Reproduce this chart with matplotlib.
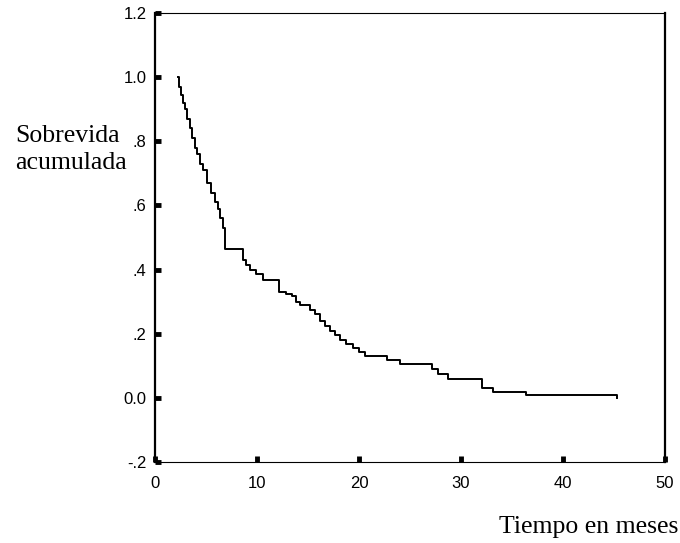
import matplotlib.pyplot as plt

# Kaplan-Meier steps (months, cumulative survival)
tiempo = [2.25, 2.35, 2.55, 2.75, 2.95, 3.15, 3.4, 3.65, 3.9, 4.15, 4.4, 4.75, 5.1, 5.5, 5.9,
          6.15, 6.4, 6.65, 6.9, 8.3, 8.6, 8.95, 9.3, 9.9, 10.6, 12.2, 12.8, 13.4, 13.8, 14.2,
          15.2, 15.7, 16.2, 16.7, 17.2, 17.6, 18.1, 18.7, 19.4, 20.0, 20.6, 22.7, 24.0, 27.2,
          27.7, 28.7, 32.1, 33.1, 36.4, 45.3]
sobrevida = [1.0, 0.97, 0.944, 0.92, 0.90, 0.87, 0.84, 0.81, 0.78, 0.76, 0.73, 0.71, 0.67, 0.64, 0.61,
             0.59, 0.56, 0.53, 0.465, 0.465, 0.43, 0.415, 0.40, 0.385, 0.367, 0.33, 0.325, 0.318, 0.30, 0.29,
             0.275, 0.26, 0.24, 0.225, 0.21, 0.195, 0.18, 0.168, 0.155, 0.142, 0.13, 0.118, 0.105, 0.09,
             0.075, 0.06, 0.03, 0.019, 0.009, 0.0]

x_ticks = [0, 10, 20, 30, 40, 50]
y_ticks = [-0.2, 0.0, 0.2, 0.4, 0.6, 0.8, 1.0, 1.2]
y_labels = ['-.2', '0.0', '.2', '.4', '.6', '.8', '1.0', '1.2']

fig = plt.figure(figsize=(6.8, 5.43), dpi=100)
ax = fig.add_axes([155 / 680, 81 / 543, 510 / 680, 449 / 543])

ax.step(tiempo, sobrevida, where='post', color='black', linewidth=1.4)

ax.set_xlim(0, 50)
ax.set_ylim(-0.2, 1.2)
ax.set_xticks(x_ticks)
ax.set_yticks(y_ticks)
ax.set_yticklabels(y_labels)
for lab in ax.get_xticklabels() + ax.get_yticklabels():
    lab.set_fontfamily('Liberation Sans')
    lab.set_fontsize(12)

ax.tick_params(axis='both', direction='in', length=4, width=3.5, color='black')
ax.tick_params(axis='x', pad=10)
ax.tick_params(axis='y', pad=6)

ax.spines['left'].set_linewidth(1.6)
ax.spines['right'].set_linewidth(1.6)
for s in ['top', 'bottom']:
    ax.spines[s].set_linewidth(0.8)
    ax.spines[s].set_linestyle((0, (3, 1)))

serif = ['Liberation Serif', 'DejaVu Serif']
fig.text(15 / 680, 1 - 169 / 543, 'Sobrevida\nacumulada', fontsize=18.5, family=serif,
         ha='left', va='baseline', linespacing=1.3)
fig.text(678 / 680, 1 - 533 / 543, 'Tiempo en meses', fontsize=18.5, family=serif,
         ha='right', va='baseline')

plt.savefig('out.png', dpi=100)
plt.close()
